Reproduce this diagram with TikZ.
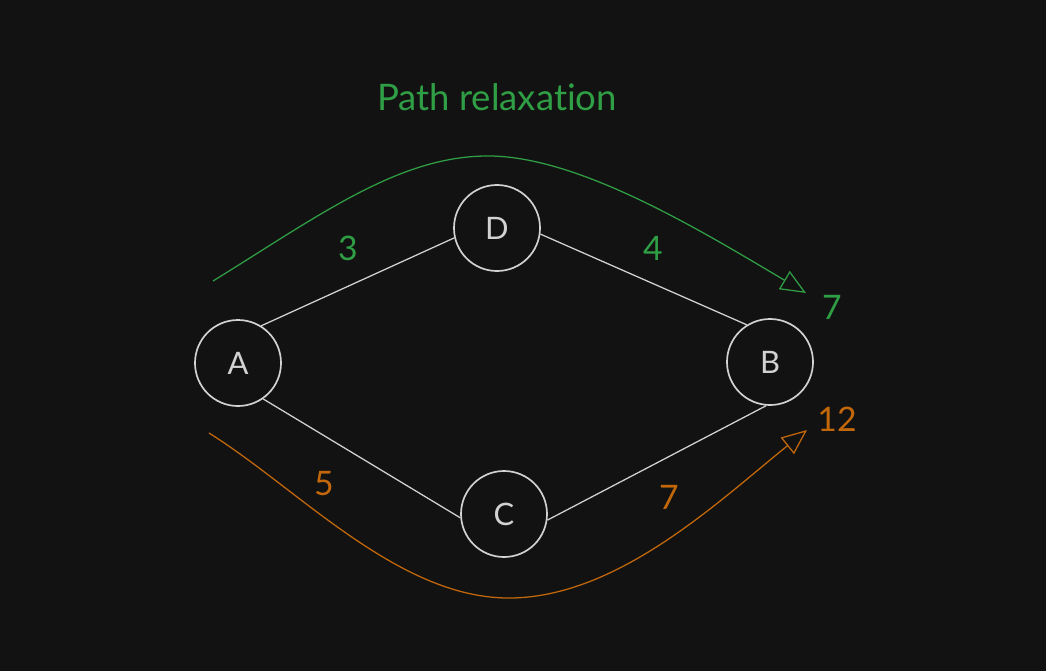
\documentclass[tikz,border=0pt]{standalone}
\usepackage{fontspec}
\setmainfont{Lato}[Ligatures={NoCommon,NoRare}]
\usetikzlibrary{arrows.meta}
\definecolor{bg}{HTML}{121212}
\definecolor{relaxgreen}{HTML}{2F9E44}
\definecolor{relaxorange}{HTML}{C2670A}
\definecolor{edgegray}{HTML}{D2D2D2}
\tikzset{vertex/.style={circle, draw=edgegray, line width=1.2pt, minimum size=2.15cm, inner sep=0pt, text=edgegray, font=\fontsize{22}{26}\selectfont},
         edge/.style={edgegray, line width=0.9pt},
         weight/.style={font=\fontsize{24}{28}\selectfont},
         relax/.style={line width=0.9pt, -{Triangle[open, length=18pt, width=15pt, line width=0.9pt]}}}

\begin{document}
\begin{tikzpicture}[x=0.025cm, y=-0.025cm]
   \fill[bg] (0,0) rectangle (1046,671);
   \useasboundingbox (0,0) rectangle (1046,671);

   % title
   \node[relaxgreen, font=\fontsize{26}{30}\selectfont] (title) at (497,97) {Path relaxation};

   % graph
   \node[vertex] (A) at (238,363) {A};
   \node[vertex] (D) at (497,228) {D};
   \node[vertex] (B) at (770,362) {B};
   \node[vertex] (C) at (504,514) {C};
   \draw[edge] (A.58)  -- (D.193);
   \draw[edge] (D.-8)  -- (B.122);
   \draw[edge] (A.-55) -- (C.185);
   \draw[edge] (C.-8)  -- (B.-95);

   % weights
   \node[weight, relaxgreen]  (wAD) at (348,248) {3};
   \node[weight, relaxgreen]  (wDB) at (653,248) {4};
   \node[weight, relaxorange] (wAC) at (324,484) {5};
   \node[weight, relaxorange] (wCB) at (669,497) {7};

   % relaxed distances
   \node[weight, relaxgreen]  (dUp) at (832,307) {7};
   \node[weight, relaxorange] (dLo) at (837,419) {12};
   \coordinate (gStart) at (213,281);
   \coordinate (gEnd)   at (806,293);
   \coordinate (oStart) at (209,433);
   \coordinate (oEnd)   at (807,430);
   \draw[relax, relaxgreen]
     (gStart) .. controls (320,215) and (400,155) .. (490,156)
              .. controls (580,157) and (700,230) .. (gEnd);
   \draw[relax, relaxorange]
     (oStart) .. controls (300,490) and (400,600) .. (512,598)
              .. controls (620,596) and (720,500) .. (oEnd);
\end{tikzpicture}
\end{document}
